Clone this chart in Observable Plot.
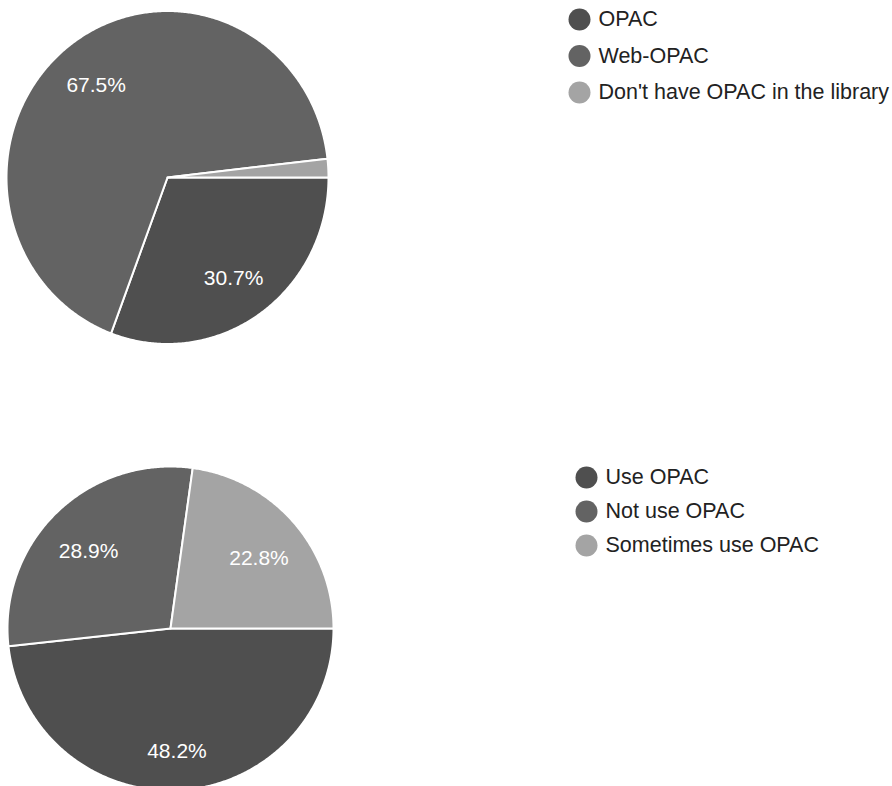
<!DOCTYPE html>
<html>
<head>
<meta charset="utf-8">
<script src="https://cdn.jsdelivr.net/npm/d3@7"></script>
<script src="https://cdn.jsdelivr.net/npm/@observablehq/plot@0.6"></script>
<style>
  html, body { margin: 0; padding: 0; background: #fff; }
  svg { display: block; }
</style>
</head>
<body>
<div id="chart"></div>
<script>
// ---- data ----
const topLabels = ["OPAC", "Web-OPAC", "Don't have OPAC in the library"];
const topValues = [30.7, 67.5, 1.8];
const bottomLabels = ["Use OPAC", "Not use OPAC", "Sometimes use OPAC"];
const bottomValues = [48.2, 28.9, 22.8];
const sliceColors = ["#4f4f4f", "#636363", "#a4a4a4"];

// ---- layout ----
const W = 892, H = 786;
const pies = [
  {id: "top", labels: topLabels, values: topValues, cx: 167, cy: 177, rx: 161, ry: 166.5, lx: 579, ly: 19, ldy: 36.5, tdy: 2},
  {id: "bottom", labels: bottomLabels, values: bottomValues, cx: 170, cy: 628, rx: 163, ry: 162, lx: 586, ly: 477, ldy: 34, tdy: 6}
];
const startAngle = Math.PI / 2; // 3 o'clock, clockwise
const labelFrac = 0.72;

const polyPts = [];
const textPts = [];
const legendPts = [];
for (const p of pies) {
  const total = d3.sum(p.values);
  let a = startAngle;
  p.values.forEach((v, i) => {
    const a0 = a, a1 = a + (v / total) * 2 * Math.PI;
    a = a1;
    const key = p.id + i;
    const color = sliceColors[i];
    const pt = (ang, f) => ({x: p.cx + f * p.rx * Math.sin(ang), y: p.cy - f * p.ry * Math.cos(ang)});
    polyPts.push({key, color, ...pt(0, 0)});
    const n = Math.max(2, Math.ceil((a1 - a0) / (Math.PI / 360)));
    for (let k = 0; k <= n; k++) polyPts.push({key, color, ...pt(a0 + (a1 - a0) * k / n, 1)});
    polyPts.push({key, color, ...pt(0, 0)});
    if (v / total >= 0.05) {
      const m = (a0 + a1) / 2;
      const q = pt(m, labelFrac);
      textPts.push({text: v.toFixed(1) + "%", x: q.x, y: q.y + p.tdy});
    }
    legendPts.push({x: p.lx, y: p.ly + i * p.ldy, color, label: p.labels[i]});
  });
}

const chart = Plot.plot({
  width: W,
  height: H,
  margin: 0,
  x: {domain: [0, W], range: [0, W], axis: null},
  y: {domain: [0, H], range: [0, H], axis: null},
  style: {fontFamily: "Arial, 'Liberation Sans', sans-serif", background: "#fff"},
  marks: [
    Plot.line(polyPts, {x: "x", y: "y", z: "key", fill: "color", stroke: "#fff", strokeWidth: 2, strokeLinejoin: "round"}),
    Plot.text(textPts, {x: "x", y: "y", text: "text", fill: "#fff", fontSize: 21}),
    Plot.dot(legendPts, {x: "x", y: "y", r: 11, fill: "color", stroke: null}),
    Plot.text(legendPts, {x: d => d.x + 19, y: "y", text: "label", fill: "#222", fontSize: 21.5, textAnchor: "start"})
  ]
});
document.getElementById("chart").appendChild(chart);
</script>
</body>
</html>
